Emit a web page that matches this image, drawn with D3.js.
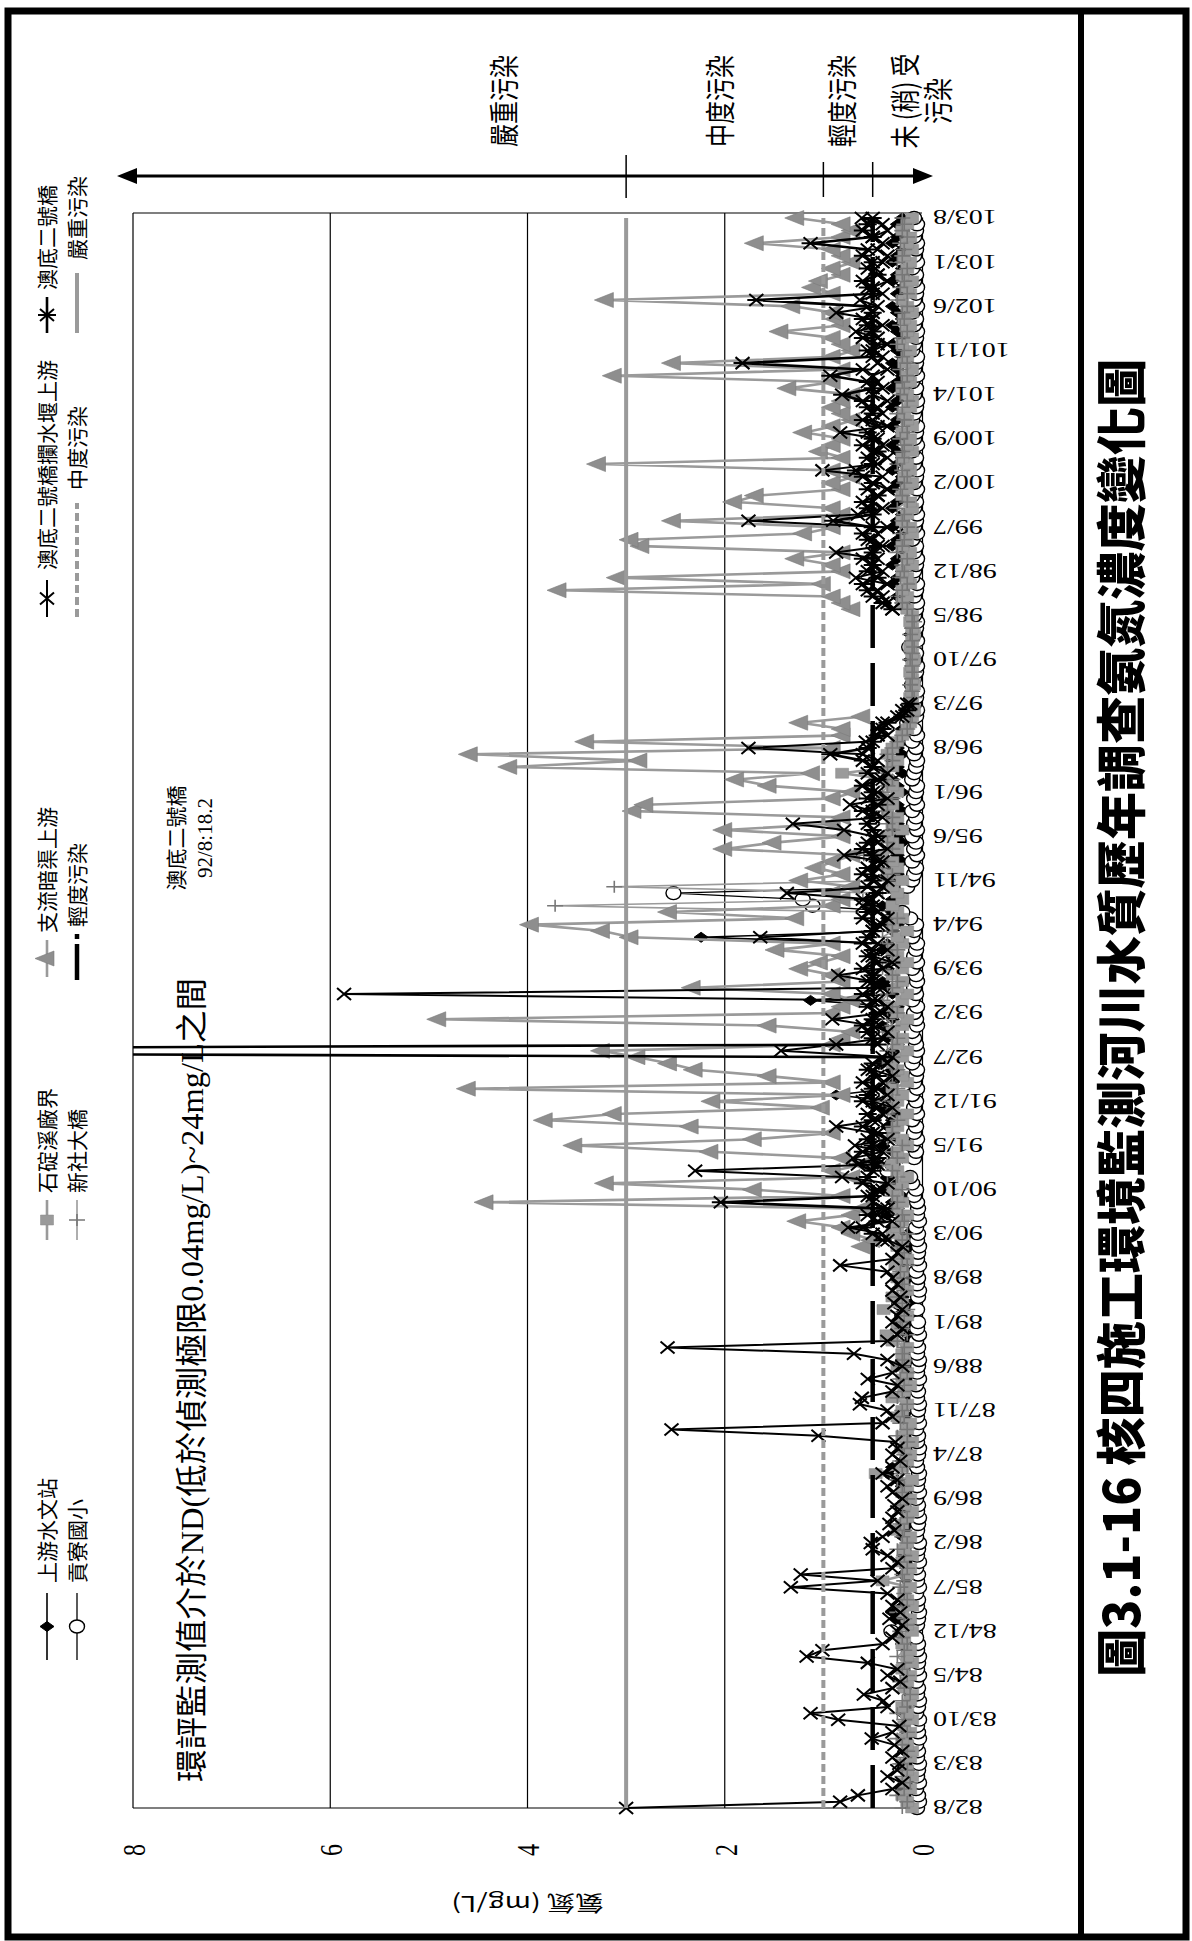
<!DOCTYPE html>
<html><head><meta charset="utf-8">
<script src="https://cdn.jsdelivr.net/npm/d3@7/dist/d3.min.js"></script>
<style>body{margin:0;background:#fff}svg{display:block}</style>
</head><body><script>
// ---------- DATA (month index 0 = 82/8 ... 252 = 103/8; each row Aug..Jul) ----------
const dateLabels = ["82/8","83/3","83/10","84/5","84/12","85/7","86/2","86/9","87/4","87/11","88/6","89/1","89/8","90/3","90/10","91/5","91/12","92/7","93/2","93/9","94/4","94/11","95/6","96/1","96/8","97/3","97/10","98/5","98/12","99/7","100/2","100/9","101/4","101/11","102/6","103/1","103/8"];
const yTicks = [0,2,4,6,8];
const N_ = null;
// 上游水文站
const sUpstream = [
0.1,0.15,0.12,0.2,0.1,0.08,0.15,0.12,0.1,0.18,0.12,0.1,
0.15,0.1,0.12,0.2,0.15,0.1,0.12,0.08,0.15,0.1,0.2,0.12,
0.1,0.15,0.2,0.12,0.1,0.15,0.25,0.3,0.2,0.15,0.1,0.12,
0.15,0.2,0.12,0.1,0.18,0.15,0.1,0.2,0.12,0.15,0.1,0.18,
0.12,0.1,0.15,0.2,0.25,0.35,0.3,0.2,0.15,0.1,0.12,0.15,
0.1,0.15,0.12,0.2,0.15,0.1,0.18,0.12,0.15,0.1,0.12,0.2,
0.15,0.1,0.12,0.15,0.2,0.1,0.12,0.15,0.1,0.2,0.15,0.12,
0.1,0.15,0.2,0.12,0.15,0.1,0.2,0.15,0.3,0.2,0.35,0.25,
0.3,0.2,0.4,0.25,0.35,0.3,0.45,0.2,0.3,0.4,0.25,0.3,
0.35,0.3,0.25,0.4,0.3,0.87,0.35,0.3,0.25,0.3,0.4,0.35,
0.3,0.25,0.35,0.3,0.4,0.3,0.35,0.25,1.13,0.3,0.35,0.4,
0.3,0.35,0.25,0.3,0.4,0.35,2.24,0.3,0.25,0.35,0.3,0.4,
0.3,0.25,0.35,0.3,0.25,0.3,0.2,0.25,0.3,0.2,0.25,0.3,
0.25,0.3,0.2,0.25,0.3,0.2,0.25,0.3,0.2,0.25,0.3,0.2,
0.25,0.2,0.15,0.2,0.15,0.1,0.12,0.1,0.08,0.1,0.12,0.1,
0.08,0.1,0.12,0.1,0.08,0.1,0.12,0.1,0.08,0.1,0.15,0.2,
0.25,0.2,0.3,0.25,0.2,0.3,0.25,0.2,0.3,0.25,0.2,0.3,
0.25,0.2,0.3,0.25,0.2,0.3,0.25,0.2,0.3,0.25,0.2,0.25,
0.3,0.25,0.2,0.3,0.25,0.2,0.3,0.25,0.2,0.3,0.25,0.2,
0.25,0.3,0.2,0.25,0.3,0.2,0.25,0.3,0.2,0.25,0.3,0.2,
0.25,0.2,0.3,0.25,0.2,0.3,0.25,0.2,0.3,0.25,0.2,0.25,
0.2];
// 貢寮國小
const sGongliao = [
0.05,0.03,0.04,0.06,0.03,0.05,0.04,0.03,0.05,0.04,0.06,0.03,
0.04,0.05,0.03,0.06,0.04,0.03,0.05,0.04,0.06,0.03,0.05,0.04,
0.03,0.05,0.04,0.06,0.31,0.05,0.04,0.03,0.05,0.04,0.06,0.03,
0.05,0.04,0.06,0.03,0.05,0.04,0.03,0.06,0.05,0.04,0.03,0.05,
0.04,0.06,0.03,0.05,0.04,0.03,0.05,0.06,0.04,0.03,0.05,0.04,
0.06,0.03,0.05,0.04,0.03,0.05,0.04,0.06,0.03,0.05,0.04,0.03,
0.05,0.04,0.06,0.03,0.05,0.04,0.2,0.05,0.23,0.04,0.03,0.05,
0.04,0.06,0.03,0.05,0.04,0.03,0.05,0.04,0.06,0.03,0.05,0.04,
0.05,0.08,0.06,0.1,0.12,0.35,0.3,0.08,0.06,0.1,0.05,0.08,
0.06,0.1,0.05,0.08,0.06,0.1,0.05,0.08,0.06,0.05,0.1,0.08,
0.05,0.06,0.08,0.1,0.05,0.06,0.08,0.05,0.1,0.06,0.08,0.05,
0.06,0.1,0.05,0.08,0.06,0.05,0.1,0.08,0.06,0.12,0.2,1.11,
1.21,2.52,0.15,0.1,0.08,0.06,0.1,0.05,0.08,0.06,0.1,0.05,
0.08,0.06,0.1,0.05,0.08,0.06,0.05,0.1,0.08,0.06,0.05,0.08,
0.06,0.1,0.05,0.08,0.15,0.06,0.05,0.08,0.06,0.05,0.1,0.08,
0.06,0.05,0.08,0.06,0.13,0.05,0.08,0.06,0.05,0.08,0.06,0.05,
0.08,0.06,0.05,0.1,0.08,0.06,0.05,0.08,0.06,0.1,0.05,0.08,
0.06,0.05,0.08,0.06,0.1,0.05,0.08,0.06,0.05,0.08,0.06,0.1,
0.05,0.08,0.06,0.05,0.1,0.08,0.06,0.05,0.08,0.06,0.1,0.05,
0.08,0.06,0.05,0.1,0.08,0.06,0.05,0.08,0.06,0.1,0.05,0.08,
0.06,0.05,0.08,0.06,0.1,0.05,0.08,0.06,0.05,0.08,0.06,0.05,
0.08];
// 石碇溪廠界
const sShiding = [
0.1,0.15,0.2,0.12,0.18,0.1,0.15,0.2,0.12,0.1,0.15,0.2,
0.12,0.18,0.1,0.15,0.2,0.12,0.1,0.18,0.15,0.12,0.2,0.1,
0.15,0.12,0.2,0.18,0.1,0.15,0.12,0.2,0.1,0.15,0.18,0.12,
0.4,0.15,0.12,0.2,0.1,0.18,0.15,0.12,0.25,0.2,0.15,0.1,
0.18,0.12,0.2,0.15,0.1,0.47,0.2,0.15,0.12,0.18,0.1,0.2,
0.15,0.12,0.25,0.2,0.15,0.3,0.18,0.12,0.2,0.15,0.25,0.18,
0.2,0.15,0.3,0.36,0.25,0.2,0.15,0.39,0.2,0.3,0.15,0.2,
0.25,0.2,0.27,0.15,0.2,0.25,0.2,0.3,0.25,0.2,0.15,0.25,
0.2,0.25,0.3,0.2,0.15,0.25,0.3,0.2,0.25,0.15,0.2,0.3,
0.25,0.2,0.15,0.3,0.25,0.2,0.3,0.15,0.2,0.25,0.3,0.2,
0.15,0.25,0.2,0.3,0.2,0.15,0.25,0.3,0.2,0.15,0.25,0.2,
0.3,0.2,0.15,0.25,0.3,0.2,0.25,0.15,0.3,0.2,0.25,0.3,
0.2,0.25,0.3,0.2,0.35,0.25,0.3,0.4,0.25,0.3,0.35,0.2,
0.3,0.25,0.35,0.3,0.4,0.25,0.3,0.35,0.81,0.3,0.25,0.35,
0.3,0.25,0.2,0.15,0.12,0.1,0.08,0.1,0.12,0.1,0.08,0.1,
0.12,0.1,0.08,0.1,0.12,0.1,0.08,0.1,0.12,0.1,0.15,0.2,
0.15,0.2,0.12,0.15,0.2,0.1,0.15,0.12,0.2,0.15,0.1,0.12,
0.2,0.15,0.1,0.12,0.2,0.15,0.1,0.18,0.12,0.15,0.2,0.1,
0.15,0.12,0.2,0.1,0.15,0.18,0.12,0.1,0.15,0.2,0.12,0.15,
0.1,0.18,0.15,0.12,0.2,0.1,0.15,0.12,0.18,0.1,0.15,0.2,
0.12,0.15,0.1,0.2,0.15,0.12,0.18,0.1,0.15,0.12,0.2,0.15,
0.1];
// 新社大橋
const sXinshe = [
0.2,0.15,0.25,0.18,0.12,0.2,0.15,0.22,0.18,0.15,0.2,0.25,
0.15,0.2,0.18,0.25,0.15,0.2,0.12,0.18,0.22,0.15,0.2,0.18,
0.25,0.18,0.15,0.2,0.22,0.15,0.18,0.25,0.2,0.15,0.18,0.22,
0.18,0.2,0.15,0.22,0.18,0.25,0.15,0.2,0.18,0.22,0.15,0.2,
0.22,0.15,0.2,0.18,0.25,0.2,0.15,0.22,0.18,0.2,0.15,0.25,
0.15,0.22,0.18,0.2,0.15,0.25,0.2,0.18,0.22,0.15,0.2,0.18,
0.2,0.18,0.25,0.15,0.2,0.22,0.18,0.15,0.2,0.25,0.18,0.2,
0.18,0.22,0.15,0.2,0.18,0.25,0.2,0.15,0.22,0.18,0.2,0.3,
0.25,0.3,0.2,0.35,0.25,0.3,0.4,0.25,0.3,0.2,0.35,0.3,
0.3,0.25,0.35,0.3,0.4,0.3,0.25,0.35,0.3,0.25,0.4,0.3,
0.35,0.3,0.25,0.4,0.3,0.35,0.25,0.3,0.4,0.35,0.3,0.25,
0.3,0.4,0.35,0.3,0.25,0.35,0.4,0.3,0.35,0.25,0.5,3.72,
0.6,0.4,3.12,0.35,0.3,0.4,0.35,0.59,0.3,0.35,0.4,0.3,
0.35,0.3,0.4,0.35,0.3,0.4,0.35,0.3,0.4,0.35,0.3,0.35,
0.3,0.25,0.2,0.15,0.12,0.1,0.12,0.1,0.08,0.1,0.12,0.1,
0.08,0.1,0.12,0.1,0.08,0.1,0.12,0.1,0.08,0.1,0.15,0.2,
0.25,0.2,0.15,0.22,0.18,0.2,0.15,0.25,0.2,0.18,0.22,0.15,
0.2,0.18,0.25,0.15,0.2,0.22,0.18,0.15,0.2,0.25,0.18,0.2,
0.18,0.22,0.15,0.2,0.18,0.25,0.2,0.15,0.22,0.18,0.2,0.15,
0.22,0.15,0.2,0.18,0.25,0.2,0.15,0.22,0.18,0.2,0.15,0.25,
0.15,0.22,0.18,0.2,0.15,0.25,0.2,0.18,0.22,0.15,0.2,0.18,
0.2];
// 支流暗渠上游
const sCulvert = [
N_,N_,N_,N_,N_,N_,N_,N_,N_,N_,N_,N_,
N_,N_,N_,N_,N_,N_,N_,N_,N_,N_,N_,N_,
N_,N_,N_,N_,N_,N_,N_,N_,N_,N_,N_,N_,
N_,N_,N_,N_,N_,N_,N_,N_,N_,N_,N_,N_,
N_,N_,N_,N_,N_,N_,N_,N_,N_,N_,N_,N_,
N_,N_,N_,N_,N_,N_,N_,N_,N_,N_,N_,N_,
N_,N_,N_,N_,N_,N_,N_,N_,N_,N_,N_,N_,
N_,N_,N_,N_,N_,0.6,0.5,0.7,0.8,1.25,0.7,0.6,
4.42,0.8,1.7,3.2,0.7,0.9,0.6,0.8,2.14,3.52,1.7,0.9,
2.34,3.82,3.12,1.01,2.12,0.8,4.6,0.9,1.55,2.3,2.56,2.88,
3.24,0.9,0.8,0.7,1.55,4.9,0.9,0.8,0.7,0.9,2.32,0.8,
0.9,1.23,1.03,0.8,1.47,0.9,2.95,3.24,3.96,1.27,2.56,0.9,
0.8,0.9,0.7,1.23,0.8,1.07,0.9,0.7,2.0,1.5,0.8,2.0,
0.9,0.8,2.92,2.8,0.9,0.7,1.55,1.88,1.11,4.18,2.86,4.58,
0.9,3.4,0.8,0.8,1.23,0.6,N_,N_,N_,N_,N_,N_,
N_,N_,N_,N_,N_,N_,N_,N_,N_,N_,0.7,0.8,
0.9,3.68,1.0,3.08,0.8,0.9,1.27,0.8,2.84,2.95,1.19,0.9,
2.52,0.8,0.9,1.9,1.68,0.8,0.9,0.7,0.9,3.28,0.8,1.03,
0.9,0.8,1.19,0.9,0.7,0.8,0.9,0.8,0.7,1.35,0.9,3.12,
0.8,2.52,0.9,0.7,0.8,0.9,1.43,0.8,0.87,0.9,1.31,3.2,
0.9,1.1,1.03,0.8,0.9,0.7,0.8,0.9,1.68,0.8,0.7,0.8,
1.27];
// 澳底二號橋攔水堰上游
const sWeir = [
3.0,0.83,0.65,0.3,0.2,0.35,0.25,0.23,0.3,0.2,0.28,0.51,
0.3,0.23,0.85,1.13,0.35,0.39,0.59,0.3,0.22,0.35,0.25,0.55,
1.17,1.01,0.4,0.3,0.25,0.2,0.33,0.22,0.3,0.25,0.35,1.33,
0.45,1.23,0.3,0.25,0.35,0.5,0.52,0.4,0.28,0.33,0.3,0.25,
0.28,0.2,0.3,0.35,0.25,0.4,0.3,0.22,0.3,0.25,0.27,1.05,
2.54,0.4,0.3,0.35,0.63,0.61,0.3,0.25,0.55,0.3,0.2,0.35,
0.69,2.58,0.35,0.25,0.2,0.3,0.25,0.2,0.28,0.22,0.3,0.25,
0.3,0.35,0.83,0.3,0.25,0.2,0.35,0.4,0.75,0.3,0.45,0.35,
0.5,0.55,0.4,0.35,0.81,2.3,0.45,0.7,0.4,0.68,0.35,0.5,
0.87,0.45,0.4,0.3,0.5,0.35,0.45,0.4,0.3,0.5,0.35,0.3,
1.43,0.87,0.4,0.35,0.5,0.91,0.4,0.35,0.45,5.86,0.4,0.5,
0.85,0.4,0.3,0.5,0.35,0.45,1.64,0.5,0.4,0.35,0.45,0.6,
0.5,1.37,0.4,0.35,0.5,0.45,0.4,0.79,0.35,0.45,0.5,0.79,
1.31,0.4,0.5,0.73,0.35,0.45,0.61,0.4,0.35,0.5,0.45,0.6,
1.76,0.57,0.35,0.45,0.4,0.25,0.2,0.15,N_,N_,N_,N_,
N_,N_,N_,N_,N_,N_,N_,N_,N_,N_,0.3,0.35,
0.4,0.45,0.35,0.67,0.4,0.5,0.45,0.87,0.4,0.5,0.45,0.35,
1.76,0.65,0.4,0.5,0.45,0.35,0.5,0.4,1.01,0.45,0.35,0.5,
0.4,0.45,0.83,0.35,0.5,0.4,0.45,0.35,0.5,0.4,0.45,0.5,
0.35,0.45,0.4,0.5,0.35,0.45,0.67,0.4,0.5,0.87,0.45,0.63,
0.4,0.5,0.35,0.45,0.47,0.4,0.35,0.45,0.4,0.5,0.35,0.4,
0.61];
// 澳底二號橋
const sAodi = [
N_,N_,N_,N_,N_,N_,N_,N_,N_,N_,N_,N_,
N_,N_,N_,N_,N_,N_,N_,N_,N_,N_,N_,N_,
N_,N_,N_,N_,N_,N_,N_,N_,N_,N_,N_,N_,
N_,N_,N_,N_,N_,N_,N_,N_,N_,N_,N_,N_,
N_,N_,N_,N_,N_,N_,N_,N_,N_,N_,N_,N_,
N_,N_,N_,N_,N_,N_,N_,N_,N_,N_,N_,N_,
N_,N_,N_,N_,N_,N_,N_,N_,N_,N_,N_,N_,
N_,N_,N_,N_,N_,N_,0.4,0.5,0.6,0.45,0.55,0.4,
2.04,0.5,0.45,0.6,0.55,0.5,0.65,0.45,0.6,0.5,0.55,0.45,
0.6,0.5,0.55,0.45,0.6,0.55,0.5,0.6,0.45,0.55,0.5,0.4,
18.2,0.45,0.5,0.55,0.6,0.5,0.45,0.55,0.5,0.6,0.45,0.55,
0.5,0.6,0.45,0.55,0.5,0.6,0.55,0.5,0.45,0.6,0.55,0.5,
0.6,0.45,0.55,0.5,0.6,0.55,0.45,0.5,0.6,0.55,0.45,0.5,
0.55,0.5,0.6,0.45,0.55,0.5,0.6,0.45,0.55,0.5,0.6,0.93,
0.55,0.5,0.45,0.4,0.35,0.2,0.15,0.12,N_,N_,N_,N_,
N_,N_,N_,N_,N_,N_,N_,N_,N_,N_,0.3,0.4,
0.5,0.55,0.6,0.45,0.55,0.5,0.6,0.5,0.45,0.55,0.6,0.5,
0.9,0.5,0.55,0.6,0.45,0.55,0.5,0.6,0.67,0.5,0.55,0.45,
0.6,0.5,0.55,0.45,0.6,0.5,0.55,0.6,0.81,0.5,0.55,0.93,
0.6,1.82,0.5,0.55,0.45,0.6,0.5,0.55,0.6,0.5,0.55,1.68,
0.5,0.55,0.6,0.45,0.55,0.5,0.6,0.55,1.13,0.5,0.6,0.55,
0.5];
// pollution thresholds (mg/L)
const thresholdNames = ["輕度污染","中度污染","嚴重污染"];
const thresholdValues = [0.5, 1.0, 3.0];
const bandLabels = ["嚴重污染","中度污染","輕度污染","未 (稍) 受","污染"];

// ---------- LAYOUT (chart drawn in landscape frame, then rotated) ----------
const W = 1941, H = 1192;
const svg = d3.select("body").append("svg").attr("width",1192).attr("height",1941);
const g = svg.append("g").attr("transform",`translate(0,${W}) rotate(-90)`);
const serif = "'Liberation Serif','Times New Roman','Noto Sans CJK TC',serif";
const cjk = "'Noto Sans CJK TC','Noto Sans CJK JP',sans-serif";

const nMonths = 253;
const x = d3.scaleLinear().domain([0, nMonths-1]).range([133, 1723]);
const y = d3.scaleLinear().domain([0, 8]).range([922, 133]);
const plotL = 133, plotR = 1728;

// outer frame
g.append("rect").attr("x",4).attr("y",8).attr("width",1926).attr("height",1178)
 .attr("fill","none").attr("stroke","#000").attr("stroke-width",7);
g.append("line").attr("x1",4).attr("x2",1930).attr("y1",1081).attr("y2",1081)
 .attr("stroke","#000").attr("stroke-width",6);

// gridlines & plot frame
g.append("g").selectAll("line").data([2,4,6,8]).join("line")
 .attr("x1",plotL).attr("x2",plotR).attr("y1",d=>y(d)).attr("y2",d=>y(d))
 .attr("stroke","#000").attr("stroke-width",1.2);
g.append("line").attr("x1",plotL).attr("x2",plotL).attr("y1",y(8)).attr("y2",y(0)).attr("stroke","#000").attr("stroke-width",1.2);
g.append("line").attr("x1",plotR).attr("x2",plotR).attr("y1",y(8)).attr("y2",y(0)).attr("stroke","#000").attr("stroke-width",1.2);

// category axis
const tickIdx = dateLabels.map((d,i)=>i*7);
const xAxis = d3.axisBottom(x).tickValues(tickIdx).tickSize(0).tickPadding(0)
  .tickFormat((d,i)=>dateLabels[i]);
const gx = g.append("g").attr("transform",`translate(0,${y(0)})`).call(xAxis);
gx.select(".domain").attr("stroke","#000").attr("stroke-width",1.2);
gx.selectAll("text").attr("font-family",serif).attr("font-size",20).attr("fill","#000")
  .attr("text-anchor","end").attr("dy","0.35em")
  .attr("transform","translate(0,11) rotate(-90) scale(1.4,1)").attr("y",0).attr("x",0);

// value axis labels
const yAxis = d3.axisLeft(y).tickValues(yTicks).tickSize(0).tickPadding(0).tickFormat(d3.format("d"));
const gy = g.append("g").attr("transform",`translate(${plotL},0)`).call(yAxis);
gy.select(".domain").remove();
gy.selectAll("text").attr("font-family",serif).attr("font-size",24).attr("fill","#000")
  .attr("text-anchor","middle").attr("dy","0.35em").attr("x",0)
  .attr("transform","translate(-42,0) scale(1,1.35)");

g.append("text").attr("transform",`translate(38,${y(4)}) rotate(-90) scale(1.35,1)`)
 .attr("text-anchor","middle").attr("dy","0.35em").attr("font-family",cjk).attr("font-size",21)
 .text("氨氮 (mg/L)");

// ---------- series ----------
const defs = svg.append("defs");
defs.append("clipPath").attr("id","plotclip").append("rect")
  .attr("x",118).attr("y",y(8)).attr("width",1625).attr("height",820);
const plot = g.append("g").attr("clip-path","url(#plotclip)");

const line = d3.line().defined(d=>d[1]!=null).x(d=>x(d[0])).y(d=>y(d[1]));
const markerPaths = {
  diamond: "M0,-7L5,0L0,7L-5,0Z",
  triangle: "M0,-12L7.5,7L-7.5,7Z",
  square: "M-5,-6.5H5V6.5H-5Z",
  x: "M-6,-7L6,7M-6,7L6,-7",
  asterisk: "M-6,-7L6,7M-6,7L6,-7M0,-9V9",
  plus: "M-6,0H6M0,-8V8",
  circle: "M-6.5,0A6.5,7.5 0 1,0 6.5,0A6.5,7.5 0 1,0 -6.5,0Z"
};
const series = [
  {name:"上游水文站", data:sUpstream, stroke:"#000", sw:1.6, m:"diamond", mf:"#000", ms:"#000", msw:1},
  {name:"貢寮國小", data:sGongliao, stroke:"#000", sw:1.3, m:"circle", mf:"#fff", ms:"#000", msw:1.4},
  {name:"石碇溪廠界", data:sShiding, stroke:"#9a9a9a", sw:2.6, m:"square", mf:"#9a9a9a", ms:"#888", msw:0.5},
  {name:"新社大橋", data:sXinshe, stroke:"#9a9a9a", sw:1.6, m:"plus", mf:"none", ms:"#777", msw:1.6},
  {name:"支流暗渠上游", data:sCulvert, stroke:"#9a9a9a", sw:2.6, m:"triangle", mf:"#8e8e8e", ms:"#7a7a7a", msw:0.6},
  {thr:0},
  {name:"澳底二號橋攔水堰上游", data:sWeir, stroke:"#000", sw:2, m:"x", mf:"none", ms:"#000", msw:2},
  {thr:1},
  {name:"澳底二號橋", data:sAodi, stroke:"#000", sw:2.6, m:"asterisk", mf:"none", ms:"#000", msw:2},
  {thr:2}
];
const thrStyle = [
  {stroke:"#000", sw:4.5, dash:"43,15"},
  {stroke:"#9a9a9a", sw:4, dash:"8,4"},
  {stroke:"#9a9a9a", sw:4, dash:null}
];
series.forEach(s=>{
  if (s.thr!==undefined){
    const st = thrStyle[s.thr], v = thresholdValues[s.thr];
    const pts = d3.range(nMonths).map(i=>[i,v]);
    plot.append("path").attr("d",line(pts)).attr("fill","none")
      .attr("stroke",st.stroke).attr("stroke-width",st.sw).attr("stroke-dasharray",st.dash);
    return;
  }
  const pts = s.data.map((v,i)=>[i,v]);
  const gs = plot.append("g");
  gs.append("path").attr("d",line(pts)).attr("fill","none").attr("stroke",s.stroke)
    .attr("stroke-width",s.sw).attr("stroke-linejoin","round");
  gs.selectAll("path.mk").data(pts.filter(d=>d[1]!=null)).join("path").attr("class","mk")
    .attr("d",markerPaths[s.m]).attr("transform",d=>`translate(${x(d[0])},${y(d[1])})`)
    .attr("fill",s.mf).attr("stroke",s.ms).attr("stroke-width",s.msw);
});

// annotations
g.append("text").attr("x",1103).attr("y",177).attr("dy","0.35em").attr("text-anchor","middle")
 .attr("font-family",cjk).attr("font-size",21).text("澳底二號橋");
g.append("text").attr("x",1103).attr("y",205).attr("dy","0.35em").attr("text-anchor","middle")
 .attr("font-family",serif).attr("font-size",21).text("92/8:18.2");
g.append("text").attr("x",159).attr("y",192).attr("dy","0.35em").attr("font-family",serif)
 .attr("font-size",32).attr("textLength",804).attr("lengthAdjust","spacingAndGlyphs")
 .text("環評監測值介於ND(低於偵測極限0.04mg/L)~24mg/L之間");

// pollution bracket (right side)
const bx = 1765;
g.append("line").attr("x1",bx).attr("x2",bx).attr("y1",130).attr("y2",920).attr("stroke","#000").attr("stroke-width",3);
g.append("path").attr("d",`M${bx},117L${bx-8},137L${bx+8},137Z`).attr("fill","#000");
g.append("path").attr("d",`M${bx},933L${bx-8},913L${bx+8},913Z`).attr("fill","#000");
g.append("g").selectAll("line").data(thresholdValues).join("line")
 .attr("x1",(d,i)=>i===2?1743:1744).attr("x2",(d,i)=>i===2?1786:1779)
 .attr("y1",d=>y(d)).attr("y2",d=>y(d)).attr("stroke","#000").attr("stroke-width",1.5);
const bandV = [504, 720, 842, 905, 938];
g.append("g").selectAll("text").data(bandLabels).join("text")
 .attr("transform",(d,i)=>`translate(1840,${bandV[i]}) scale(1,1.3)`)
 .attr("text-anchor","middle").attr("dy","0.38em").attr("font-family",cjk).attr("font-size",23)
 .text(d=>d);

// legend
const legend = [
  {si:0, u0:281,u1:348, tx:358, v:47},
  {si:1, u0:281,u1:348, tx:358, v:77},
  {si:2, u0:701,u1:741, tx:748, v:47},
  {si:3, u0:701,u1:741, tx:748, v:77},
  {si:4, u0:964,u1:1001, tx:1008, v:47},
  {thr:0, u0:961,u1:1008, tx:1014, v:77},
  {si:6, u0:1324,u1:1361, tx:1371, v:47},
  {thr:1, u0:1324,u1:1438, tx:1451, v:77},
  {si:8, u0:1608,u1:1644, tx:1651, v:47},
  {thr:2, u0:1608,u1:1668, tx:1681, v:77}
];
const lg = g.append("g");
legend.forEach(L=>{
  let label;
  if (L.thr!==undefined){
    const st = thrStyle[L.thr];
    lg.append("line").attr("x1",L.u0).attr("x2",L.u1).attr("y1",L.v).attr("y2",L.v)
      .attr("stroke",st.stroke).attr("stroke-width",st.sw)
      .attr("stroke-dasharray", L.thr===0 ? "36,5,5,20" : st.dash);
    label = thresholdNames[L.thr];
  } else {
    const s = series[L.si];
    lg.append("line").attr("x1",L.u0).attr("x2",L.u1).attr("y1",L.v).attr("y2",L.v)
      .attr("stroke",s.stroke).attr("stroke-width",s.sw);
    lg.append("path").attr("d",markerPaths[s.m]).attr("transform",`translate(${(L.u0+L.u1)/2},${L.v})`)
      .attr("fill",s.mf).attr("stroke",s.ms).attr("stroke-width",s.msw);
    label = s.name;
  }
  lg.append("text").attr("x",L.tx).attr("y",L.v).attr("dy","0.36em").attr("font-family",cjk)
    .attr("font-size",21).text(label);
});

// title
g.append("text").attr("x",923).attr("y",1122).attr("dy","0.36em").attr("text-anchor","middle")
 .attr("font-family",cjk).attr("font-weight",900).attr("font-size",50)
 .attr("textLength",1318).attr("lengthAdjust","spacingAndGlyphs")
 .text("圖3.1-16 核四施工環境監測河川水質歷年調查氨氮濃度變化圖");

// sanity check of array lengths
[sUpstream,sGongliao,sShiding,sXinshe,sCulvert,sWeir,sAodi].forEach((a,k)=>{
  if (a.length!==nMonths) g.append("text").attr("x",300).attr("y",300+k*30).attr("fill","red")
    .attr("font-size",24).text("len "+k+" = "+a.length);
});
</script></body></html>
